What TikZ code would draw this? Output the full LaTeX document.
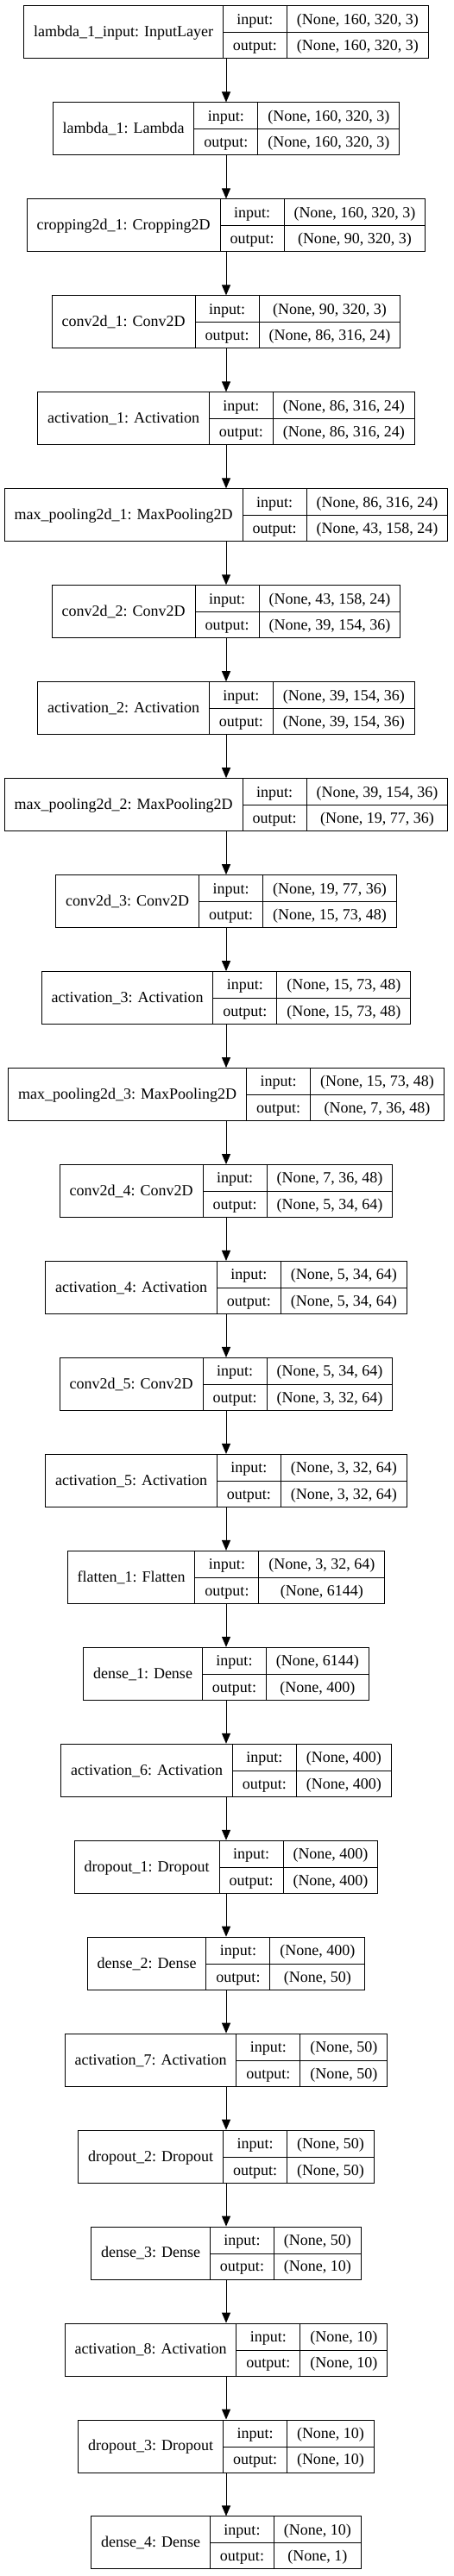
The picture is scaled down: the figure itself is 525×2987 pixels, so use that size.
\documentclass[tikz,border=0pt]{standalone}
\usepackage{fontspec}
\setmainfont{Liberation Serif}
\usetikzlibrary{arrows.meta}
\setlength{\tabcolsep}{11.5pt}
\setlength{\arrayrulewidth}{1pt}
\renewcommand{\arraystretch}{1.412}
\newcommand{\layerrec}[3]{%
  \begin{tabular}{c|c|c}
    \raisebox{-14.5pt}[0pt][0pt]{#1} & input: & #2\\ \cline{2-3}
    & output: & #3
  \end{tabular}}
\begin{document}
\begin{tikzpicture}[x=1pt,y=-1pt]
      \tikzstyle{layer}=[draw,line width=1pt,inner sep=0pt,font=\fontsize{18}{21.6}\selectfont]
      \tikzstyle{edge}=[draw,line width=1pt,-{Triangle[length=12pt,width=10pt]}]
      \useasboundingbox (0,0) rectangle (525,2987);
      \node[layer] (inp) at (262,37.5) {\layerrec{lambda\_1\_input: InputLayer}{(None, 160, 320, 3)}{(None, 160, 320, 3)}};
      \node[layer] (lam1) at (262,149.46) {\layerrec{lambda\_1: Lambda}{(None, 160, 320, 3)}{(None, 160, 320, 3)}};
      \node[layer] (crop1) at (262,261.42) {\layerrec{cropping2d\_1: Cropping2D}{(None, 160, 320, 3)}{(None, 90, 320, 3)}};
      \node[layer] (conv1) at (262,373.38) {\layerrec{conv2d\_1: Conv2D}{(None, 90, 320, 3)}{(None, 86, 316, 24)}};
      \node[layer] (act1) at (262,485.34) {\layerrec{activation\_1: Activation}{(None, 86, 316, 24)}{(None, 86, 316, 24)}};
      \node[layer] (pool1) at (262,597.30) {\layerrec{max\_pooling2d\_1: MaxPooling2D}{(None, 86, 316, 24)}{(None, 43, 158, 24)}};
      \node[layer] (conv2) at (262,709.26) {\layerrec{conv2d\_2: Conv2D}{(None, 43, 158, 24)}{(None, 39, 154, 36)}};
      \node[layer] (act2) at (262,821.22) {\layerrec{activation\_2: Activation}{(None, 39, 154, 36)}{(None, 39, 154, 36)}};
      \node[layer] (pool2) at (262,933.18) {\layerrec{max\_pooling2d\_2: MaxPooling2D}{(None, 39, 154, 36)}{(None, 19, 77, 36)}};
      \node[layer] (conv3) at (262,1045.14) {\layerrec{conv2d\_3: Conv2D}{(None, 19, 77, 36)}{(None, 15, 73, 48)}};
      \node[layer] (act3) at (262,1157.10) {\layerrec{activation\_3: Activation}{(None, 15, 73, 48)}{(None, 15, 73, 48)}};
      \node[layer] (pool3) at (262,1269.06) {\layerrec{max\_pooling2d\_3: MaxPooling2D}{(None, 15, 73, 48)}{(None, 7, 36, 48)}};
      \node[layer] (conv4) at (262,1381.02) {\layerrec{conv2d\_4: Conv2D}{(None, 7, 36, 48)}{(None, 5, 34, 64)}};
      \node[layer] (act4) at (262,1492.98) {\layerrec{activation\_4: Activation}{(None, 5, 34, 64)}{(None, 5, 34, 64)}};
      \node[layer] (conv5) at (262,1604.94) {\layerrec{conv2d\_5: Conv2D}{(None, 5, 34, 64)}{(None, 3, 32, 64)}};
      \node[layer] (act5) at (262,1716.90) {\layerrec{activation\_5: Activation}{(None, 3, 32, 64)}{(None, 3, 32, 64)}};
      \node[layer] (flat1) at (262,1828.86) {\layerrec{flatten\_1: Flatten}{(None, 3, 32, 64)}{(None, 6144)}};
      \node[layer] (dense1) at (262,1940.82) {\layerrec{dense\_1: Dense}{(None, 6144)}{(None, 400)}};
      \node[layer] (act6) at (262,2052.78) {\layerrec{activation\_6: Activation}{(None, 400)}{(None, 400)}};
      \node[layer] (drop1) at (262,2164.74) {\layerrec{dropout\_1: Dropout}{(None, 400)}{(None, 400)}};
      \node[layer] (dense2) at (262,2276.70) {\layerrec{dense\_2: Dense}{(None, 400)}{(None, 50)}};
      \node[layer] (act7) at (262,2388.66) {\layerrec{activation\_7: Activation}{(None, 50)}{(None, 50)}};
      \node[layer] (drop2) at (262,2500.62) {\layerrec{dropout\_2: Dropout}{(None, 50)}{(None, 50)}};
      \node[layer] (dense3) at (262,2612.58) {\layerrec{dense\_3: Dense}{(None, 50)}{(None, 10)}};
      \node[layer] (act8) at (262,2724.54) {\layerrec{activation\_8: Activation}{(None, 10)}{(None, 10)}};
      \node[layer] (drop3) at (262,2836.50) {\layerrec{dropout\_3: Dropout}{(None, 10)}{(None, 10)}};
      \node[layer] (dense4) at (262,2948.46) {\layerrec{dense\_4: Dense}{(None, 10)}{(None, 1)}};
      \path[edge] (inp) -- (lam1);
      \path[edge] (lam1) -- (crop1);
      \path[edge] (crop1) -- (conv1);
      \path[edge] (conv1) -- (act1);
      \path[edge] (act1) -- (pool1);
      \path[edge] (pool1) -- (conv2);
      \path[edge] (conv2) -- (act2);
      \path[edge] (act2) -- (pool2);
      \path[edge] (pool2) -- (conv3);
      \path[edge] (conv3) -- (act3);
      \path[edge] (act3) -- (pool3);
      \path[edge] (pool3) -- (conv4);
      \path[edge] (conv4) -- (act4);
      \path[edge] (act4) -- (conv5);
      \path[edge] (conv5) -- (act5);
      \path[edge] (act5) -- (flat1);
      \path[edge] (flat1) -- (dense1);
      \path[edge] (dense1) -- (act6);
      \path[edge] (act6) -- (drop1);
      \path[edge] (drop1) -- (dense2);
      \path[edge] (dense2) -- (act7);
      \path[edge] (act7) -- (drop2);
      \path[edge] (drop2) -- (dense3);
      \path[edge] (dense3) -- (act8);
      \path[edge] (act8) -- (drop3);
      \path[edge] (drop3) -- (dense4);
\end{tikzpicture}
\end{document}
